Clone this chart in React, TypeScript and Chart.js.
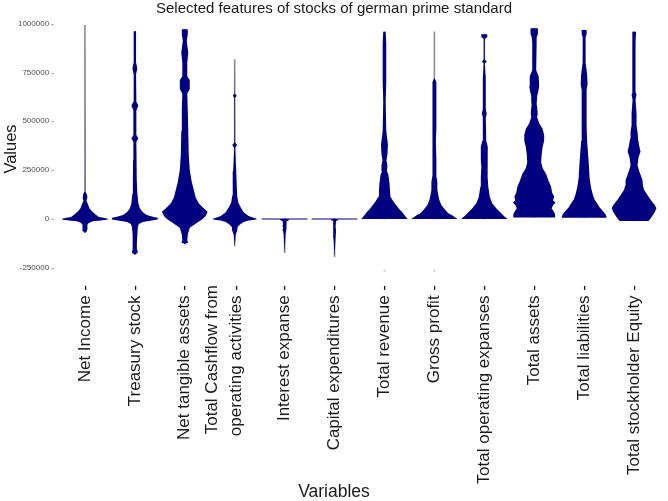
import React, { useEffect, useRef } from 'react';
import { Chart, registerables } from 'chart.js';

Chart.register(...registerables);

// ---------- data ----------
const categories: (string | string[])[] = [
  'Net Income',
  'Treasury stock',
  'Net tangible assets',
  ['Total Cashflow from', 'operating activities'],
  'Interest expanse',
  'Capital expenditures',
  'Total revenue',
  'Gross profit',
  'Total operating expanses',
  'Total assets',
  'Total liabilities',
  'Total stockholder Equity',
];

const yTicks = [-250000, 0, 250000, 500000, 750000, 1000000];

// Each violin: values (top -> bottom) and the swarm spread at each value (0..23)
const netIncomeValues = [990000, 140000, 125000, 110000, 95000, 75000, 55000, 40000, 22000, 10000, 5000, 2000, -3000, -7000, -12000, -20000, -28000, -50000, -62000, -70000];
const netIncomeSpread = [0, 0.4, 2, 2.5, 1.5, 3, 4.5, 7, 11, 14, 20, 23, 23, 16, 8, 4, 2.5, 2.5, 2, 0];

const treasuryValues = [960000, 800000, 770000, 740000, 600000, 580000, 555000, 430000, 412000, 395000, 300000, 200000, 130000, 80000, 55000, 35000, 20000, 12000, 6000, -3000, -8000, -15000, -25000, -40000, -80000, -120000, -155000, -165000, -175000, -182000];
const treasurySpread = [1.2, 1.2, 2.5, 1.2, 1.5, 3.5, 1.5, 1.5, 3.5, 1.5, 1.8, 2, 2.5, 3.5, 5, 8, 12, 18, 23, 23, 17, 8, 4, 3, 2.5, 2, 2, 3, 2.5, 0];

const tangibleValues = [970000, 945000, 910000, 850000, 800000, 730000, 710000, 665000, 640000, 560000, 450000, 330000, 250000, 190000, 150000, 110000, 80000, 55000, 37000, 15000, 0, -20000, -45000, -80000, -110000, -120000, -128000];
const tangibleSpread = [3, 3, 2, 3.5, 2.5, 2.5, 5, 5, 2.5, 3, 3.5, 4, 5, 7, 9, 11, 14, 19, 23, 21, 18, 12, 5, 3, 2.5, 3.5, 0];

const cashflowValues = [815000, 640000, 630000, 620000, 390000, 378000, 365000, 250000, 240000, 180000, 120000, 85000, 60000, 35000, 15000, 6000, 2000, -3000, -8000, -15000, -25000, -40000, -60000, -80000, -138000];
const cashflowSpread = [0, 0.3, 2, 0.3, 0.5, 2.5, 0.5, 1.5, 2, 2, 2.5, 3.5, 6, 9, 14, 19, 22, 22, 14, 9, 6, 3, 2.5, 1, 0];

const interestValues = [2500, -2000, -2500, -6000, -12000, -25000, -30000, -38000, -45000, -55000, -75000, -172000];
const interestSpread = [23, 23, 4.5, 4, 2, 1.5, 2, 2, 1.5, 2, 1, 0];

const capexValues = [2500, -2000, -2500, -6000, -12000, -40000, -60000, -100000, -193000];
const capexSpread = [23, 23, 3.5, 3, 1.5, 1, 1.5, 1, 0];

const revenueValues = [957000, 900000, 700000, 600000, 450000, 380000, 330000, 300000, 275000, 245000, 225000, 185000, 150000, 115000, 90000, 72000, 50000, 37000, 20000, 8000, 3000, 0];
const revenueSpread = [1.2, 1.8, 1.8, 1.2, 1.8, 3.5, 3, 2, 3, 2.5, 4, 5, 5.5, 6, 9, 11.7, 15, 17.5, 20, 22, 23, 23];

const grossValues = [957000, 720000, 700000, 640000, 520000, 460000, 400000, 300000, 220000, 190000, 150000, 120000, 97000, 72000, 46000, 30000, 20000, 8000, 3000, 0];
const grossSpread = [0, 0.3, 2, 2, 2, 2, 1.5, 2, 2, 3, 3, 4, 5, 7, 11, 14, 17.5, 21, 22.7, 22.7];

const opexValues = [945000, 930000, 920000, 815000, 805000, 795000, 720000, 560000, 540000, 520000, 400000, 370000, 300000, 267000, 216000, 165000, 114000, 80000, 55000, 29000, 12000, 3000, 0];
const opexSpread = [3, 3, 0.5, 0.5, 2.5, 0.5, 1.5, 1.5, 2.5, 1.5, 2, 3.5, 3.5, 3, 3.5, 4, 5.5, 8, 12, 17, 20.5, 23, 23];

const assetsValues = [976000, 945000, 930000, 900000, 760000, 730000, 680000, 650000, 630000, 590000, 545000, 520000, 490000, 460000, 430000, 400000, 370000, 330000, 290000, 260000, 230000, 195000, 165000, 135000, 115000, 95000, 85000, 70000, 55000, 40000, 25000, 8000];
const assetsSpread = [3.7, 3.7, 2.5, 2, 2, 4.5, 5, 4, 3, 2.5, 3.5, 3, 5, 8.5, 10, 10, 8.5, 7.5, 7, 8.5, 12, 14.5, 17, 18, 20, 19, 21.5, 19, 17.5, 19.5, 21, 21];

const liabilitiesValues = [966000, 945000, 930000, 800000, 740000, 690000, 660000, 600000, 480000, 400000, 330000, 260000, 210000, 160000, 120000, 100000, 80000, 60000, 40000, 25000, 12000, 6000];
const liabilitiesSpread = [2.5, 2.5, 1.5, 1.5, 3, 3.5, 2.5, 2.5, 2.5, 3, 4, 5, 5.5, 7, 9, 10.5, 13, 15.5, 19, 21.5, 22.5, 22.5];

const equityValues = [957000, 900000, 650000, 635000, 610000, 540000, 480000, 446000, 410000, 378000, 345000, 315000, 275000, 240000, 200000, 170000, 150000, 130000, 100000, 70000, 55000, 37000, 20000, 5000, -10000];
const equitySpread = [2, 1.5, 1.5, 2.5, 1.5, 2.5, 2.5, 3.5, 4, 5, 6.5, 4.5, 3.5, 5.5, 8.5, 9, 10, 12.5, 16.5, 21, 22.5, 21, 19, 17, 14.5];

const violinValues = [
  netIncomeValues, treasuryValues, tangibleValues, cashflowValues, interestValues, capexValues,
  revenueValues, grossValues, opexValues, assetsValues, liabilitiesValues, equityValues,
];
const violinSpread = [
  netIncomeSpread, treasurySpread, tangibleSpread, cashflowSpread, interestSpread, capexSpread,
  revenueSpread, grossSpread, opexSpread, assetsSpread, liabilitiesSpread, equitySpread,
];

const outlierCategory = [6, 7];
const outlierValues = [-265000, -265000];

// ---------- style ----------
const FONT = "'Liberation Sans', Arial, Helvetica, sans-serif";
const NAVY = '#000080';
const SPREAD_MAX = 23;
const HALF_WIDTH = 0.458; // category units at full spread
const LINE_SHIFT = 0.45; // multi-line tick label shift (category units per line)

function violinPoints(ci: number, values: number[], spread: number[]) {
  const s = HALF_WIDTH / SPREAD_MAX;
  const L = values.map((v, j) => ({ x: ci - spread[j] * s, y: v }));
  const R = values.map((v, j) => ({ x: ci + spread[j] * s, y: v }));
  let k = 0;
  spread.forEach((w, j) => {
    if (w > spread[k]) k = j;
  });
  const n = values.length;
  const pts: { x: number; y: number }[] = [];
  for (let j = k; j >= 0; j--) pts.push(L[j]);
  for (let j = 0; j < n; j++) pts.push(R[j]);
  for (let j = n - 1; j >= k; j--) pts.push(L[j]);
  pts.push(R[k]);
  return pts;
}

export default function App() {
  const ref = useRef<HTMLCanvasElement | null>(null);

  useEffect(() => {
    if (!ref.current) return;
    const violins = violinValues.map((vals, i) => ({
      type: 'line' as const,
      data: violinPoints(i, vals, violinSpread[i]),
      showLine: true,
      fill: 'shape',
      backgroundColor: NAVY,
      borderColor: NAVY,
      borderWidth: 0,
      pointRadius: 0,
      pointHoverRadius: 0,
      tension: 0,
      order: 1,
    }));
    const ranges = {
      type: 'bar' as const,
      data: violinValues.map((vals, i) => ({ x: i, y: [Math.min(...vals), Math.max(...vals)] })),
      backgroundColor: '#8f8f8f',
      borderWidth: 0,
      barThickness: 1,
      order: 3,
    };
    const outliers = {
      type: 'scatter' as const,
      data: outlierCategory.map((c, i) => ({ x: c, y: outlierValues[i] })),
      backgroundColor: '#c4c4c4',
      borderWidth: 0,
      pointRadius: 1,
      order: 0,
    };

    const chart = new Chart(ref.current, {
      type: 'scatter',
      data: { datasets: [ranges as any, ...(violins as any[]), outliers as any] },
      options: {
        animation: false,
        responsive: false,
        layout: { padding: 0 },
        plugins: {
          legend: { display: false },
          tooltip: { enabled: false },
          title: {
            display: true,
            text: 'Selected features of stocks of german prime standard',
            color: '#1a1a1a',
            font: { family: FONT, size: 15, weight: 'normal', lineHeight: 14 / 15 },
            padding: { top: 2, bottom: 0 },
          },
          subtitle: {
            display: true,
            position: 'bottom',
            text: 'Variables',
            color: '#1a1a1a',
            font: { family: FONT, size: 17.5, weight: 'normal', lineHeight: 1 },
            padding: 0,
          },
        },
        scales: {
          x: {
            type: 'linear',
            min: -0.6,
            max: 11.6,
            offset: false,
            grid: { display: false, drawTicks: false },
            border: { display: false },
            afterBuildTicks: (s: any) => {
              s.ticks = categories.map((c, i) => ({
                value: i - (Array.isArray(c) ? (c.length - 1) * LINE_SHIFT : 0),
              }));
            },
            afterFit: (s: any) => {
              s.height = 201.5;
              s.paddingLeft = 0;
              s.paddingRight = 0;
            },
            ticks: {
              autoSkip: false,
              maxRotation: 90,
              minRotation: 90,
              padding: 3,
              color: '#1a1a1a',
              font: { family: FONT, size: 17, lineHeight: 1.4 },
              callback: (_v: any, i: number) => {
                const c = categories[i];
                if (Array.isArray(c)) return c.map((t, j) => (j === c.length - 1 ? t + ' -' : t));
                return c + ' -';
              },
            },
          },
          y: {
            type: 'linear',
            min: -322000,
            max: 1038000,
            grid: { display: false, drawTicks: false },
            border: { display: false },
            afterBuildTicks: (s: any) => {
              s.ticks = yTicks.map((v) => ({ value: v }));
            },
            afterFit: (s: any) => {
              s.width = 55;
              s.paddingTop = 0;
              s.paddingBottom = 0;
            },
            ticks: {
              padding: 1,
              color: '#4d4d4d',
              font: { family: FONT, size: 8 },
              callback: (v: any) => `${v} -`,
            },
            title: {
              display: true,
              text: 'Values',
              color: '#1a1a1a',
              font: { family: FONT, size: 16.5 },
              padding: { top: 2, bottom: 0 },
            },
          },
        },
      } as any,
    });
    return () => chart.destroy();
  }, []);

  return (
    <div style={{ position: 'absolute', left: 0, top: 0, width: 668, height: 501, background: '#fff' }}>
      <canvas ref={ref} width={668} height={501} style={{ display: 'block' }} />
    </div>
  );
}
